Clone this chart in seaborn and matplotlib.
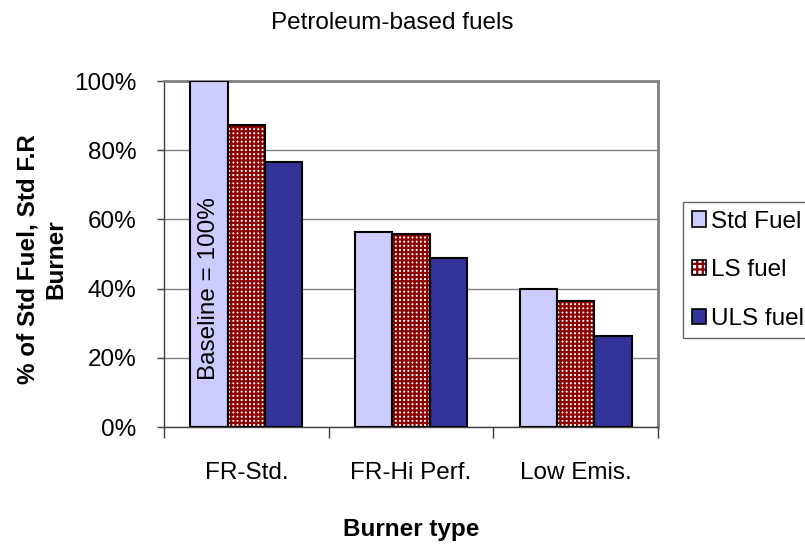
import pandas as pd
import matplotlib
matplotlib.use('Agg')
import matplotlib.pyplot as plt
import seaborn as sns
from matplotlib.patches import Patch, Rectangle
from matplotlib.ticker import FixedLocator, FuncFormatter

# Values (% of std fuel, std F.R burner)
burners = ['FR-Std.', 'FR-Hi Perf.', 'Low Emis.']
fuels = ['Std Fuel', 'LS fuel', 'ULS fuel']
std_fuel = [100.0, 56.5, 39.8]
ls_fuel = [87.3, 55.8, 36.3]
uls_fuel = [76.7, 48.8, 26.2]

colors = {'Std Fuel': '#CCCCFF', 'LS fuel': '#FFFFFF', 'ULS fuel': '#333399'}
hatch_red = '#8B0000'

rows = []
for fuel, vals in zip(fuels, [std_fuel, ls_fuel, uls_fuel]):
    for b, v in zip(burners, vals):
        rows.append((b, fuel, v))
df = pd.DataFrame(rows, columns=['Burner type', 'Fuel', 'Value'])

sns.set_style('white')
plt.rcParams['font.family'] = ['Liberation Sans', 'DejaVu Sans']
plt.rcParams['text.color'] = 'black'
plt.rcParams['xtick.color'] = 'black'
plt.rcParams['ytick.color'] = 'black'
plt.rcParams['axes.labelcolor'] = 'black'
plt.rcParams['hatch.linewidth'] = 1.6
fs = 17.5

fig = plt.figure(figsize=(8.05, 5.46), dpi=100)
ax = fig.add_axes([164 / 805, 1 - 427 / 546, (658 - 164) / 805, (427 - 81) / 546])

sns.barplot(data=df, x='Burner type', y='Value', hue='Fuel', order=burners,
            hue_order=fuels, palette=colors, width=0.68, saturation=1,
            edgecolor='black', linewidth=1.5, legend=False, ax=ax, zorder=3)

# hatched LS fuel bars: red grid on white, black border drawn on top
for p in ax.containers[1]:
    p.set_edgecolor(hatch_red)
    p.set_hatch('++++')
    p.set_linewidth(0)
    ax.add_patch(Rectangle((p.get_x(), p.get_y()), p.get_width(), p.get_height(),
                           fill=False, edgecolor='black', linewidth=1.5, zorder=4))

ax.set_ylim(0, 100)
ax.set_xlim(-0.5, 2.5)
ax.yaxis.set_major_locator(FixedLocator([0, 20, 40, 60, 80, 100]))
ax.yaxis.set_major_formatter(FuncFormatter(lambda v, _: f'{int(v)}%'))
ax.yaxis.grid(True, color='#808080', linewidth=1, zorder=0)
ax.set_axisbelow(True)

for side in ['top', 'right']:
    ax.spines[side].set_color('#808080')
    ax.spines[side].set_linewidth(2)
for side in ['left', 'bottom']:
    ax.spines[side].set_color('#404040')
    ax.spines[side].set_linewidth(1)

ax.tick_params(axis='y', which='major', length=5, width=1, color='#404040',
               pad=15, labelsize=fs, left=True)
ax.tick_params(axis='x', which='major', length=0, pad=25, labelsize=fs)
ax.set_xticks([-0.5, 0.5, 1.5, 2.5], minor=True)
ax.tick_params(axis='x', which='minor', length=8, width=1, color='#404040',
               bottom=True, direction='out')

ax.set_xlabel('Burner type', fontsize=fs, fontweight='bold', labelpad=25)
ax.set_ylabel('')
fig.text(42 / 805, 1 - 259 / 546, '% of Std Fuel, Std F.R\nBurner', rotation=90,
         ha='center', va='center', fontsize=fs, fontweight='bold', linespacing=1.3)

fig.suptitle('Petroleum-based fuels', x=392 / 805, y=1 - 23 / 546, va='center',
             fontsize=fs)

# baseline note inside the first Std Fuel bar
first = ax.containers[0][0]
ax.text(first.get_x() + first.get_width() / 2, 40, 'Baseline = 100%',
        rotation=90, ha='center', va='center', fontsize=fs, zorder=5)

ls_handle = (Patch(facecolor='white', edgecolor=hatch_red, hatch='+++', linewidth=0),
             Patch(fill=False, edgecolor='black', linewidth=1.2))
handles = [Patch(facecolor=colors['Std Fuel'], edgecolor='black', linewidth=1.2),
           ls_handle,
           Patch(facecolor=colors['ULS fuel'], edgecolor='black', linewidth=1.2)]
leg = fig.legend(handles, fuels, loc='upper left', bbox_to_anchor=(683 / 805, 1 - 202 / 546),
                 fontsize=fs, frameon=True, fancybox=False, handlelength=0.6,
                 handleheight=0.6, handletextpad=0.2, labelspacing=1.1,
                 borderpad=0.35, borderaxespad=0)
leg.get_frame().set_edgecolor('#404040')
leg.get_frame().set_linewidth(1)

fig.savefig('out.png', dpi=100)
